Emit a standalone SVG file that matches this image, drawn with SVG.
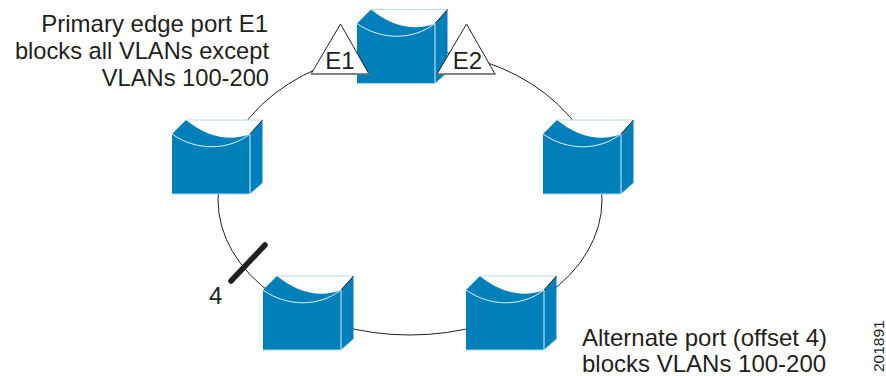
<svg xmlns="http://www.w3.org/2000/svg" width="886" height="376" viewBox="0 0 886 376">
<defs>
<style>
text{font-family:"Liberation Sans",Arial,sans-serif;fill:#231f20}
.l{font-size:24px}
.m{font-size:23.700px}
.ring{fill:none;stroke:#231f20;stroke-width:1}
.tri{fill:#fff;stroke:#231f20;stroke-width:1}
.base{stroke:#808080;stroke-width:1.5}
</style>
<g id="sw">
<path d="M0 14L14 0H90.500V63L78 74H0Z" fill="#0080bb"/>
<path d="M14 0H90.500L78 14C56 23 32 15 14 0Z" fill="#fff"/>
<path d="M14 0H90.500" fill="none" stroke="#b5dcec" stroke-width="1"/>
<path d="M78 14L90.500 0" fill="none" stroke="#231f20" stroke-width="1"/>
<path d="M0 14C24 31 56 31 78 14" fill="none" stroke="#e4f2f8" stroke-width="1"/>
<path d="M78 14V74" fill="none" stroke="#a9d5e8" stroke-width="1.300"/>
<path d="M0 74H78" fill="none" stroke="#a9d5e8" stroke-width="1"/>
<path d="M78 74L90.500 63" fill="none" stroke="#a9d5e8" stroke-width="0.800"/>
</g>
</defs>
<g id="connectors">
<path class="ring" d="M218 200A192 150 0 0 1 602 200"/>
<path class="ring" d="M218 200A192 135 0 0 0 602 200"/>
<path d="M231 281L265 245" fill="none" stroke="#231f20" stroke-width="5.500" stroke-linecap="round"/>
</g>
<g id="node-top"><use href="#sw" x="357" y="9.500"/></g>
<g id="node-left"><use href="#sw" x="172" y="120"/></g>
<g id="node-right"><use href="#sw" x="543" y="120"/></g>
<g id="node-bottom-left"><use href="#sw" x="263" y="276"/></g>
<g id="node-bottom-right"><use href="#sw" x="466" y="276"/></g>
<g id="port-e1">
<path class="tri" d="M340.500 24L311 74H369Z"/>
<path class="base" d="M311 74H369.500"/>
<text x="340" y="69" text-anchor="middle" class="l">E1</text>
</g>
<g id="port-e2">
<path class="tri" d="M466.500 24L437 74H495Z"/>
<path class="base" d="M437 74H496"/>
<text x="467.500" y="69" text-anchor="middle" class="l">E2</text>
</g>
<g id="labels">
<text x="268" y="32" text-anchor="end" class="l">Primary edge port E1</text>
<text x="269" y="59" text-anchor="end" class="m">blocks all VLANs except</text>
<text x="269" y="86" text-anchor="end" class="m">VLANs 100-200</text>
<text x="209" y="304" class="l">4</text>
<text x="582" y="346" class="l">Alternate port (offset 4)</text>
<text x="582" y="372" class="l">blocks VLANs 100-200</text>
<text transform="translate(884 372) rotate(-90)" font-size="15.500">201891</text>
</g>
</svg>
